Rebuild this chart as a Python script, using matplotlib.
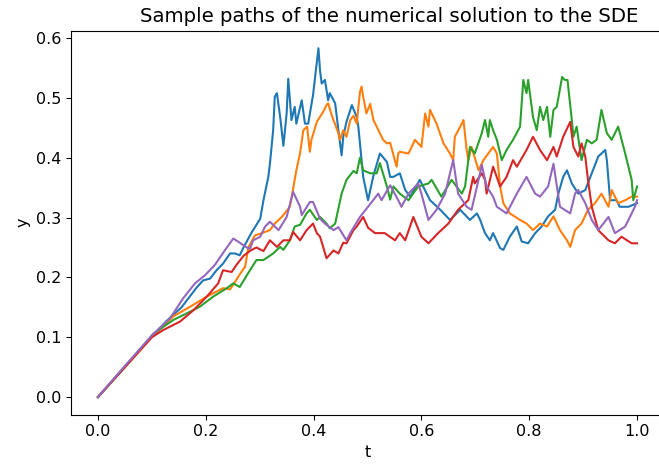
import matplotlib
matplotlib.use('Agg')
import matplotlib.pyplot as plt

# sample paths (t, y)
t_blue = [0, 0.05, 0.10, 0.127, 0.155, 0.183, 0.195, 0.208, 0.220, 0.232, 0.245, 0.254, 0.263, 0.270,
          0.285, 0.301, 0.307, 0.316, 0.319, 0.325, 0.328, 0.332, 0.338, 0.344, 0.350, 0.353, 0.359,
          0.365, 0.368, 0.378, 0.384, 0.390, 0.399, 0.409, 0.412, 0.415, 0.421, 0.427, 0.430, 0.440,
          0.446, 0.452, 0.455, 0.461, 0.471, 0.480, 0.483, 0.489, 0.492, 0.501, 0.511, 0.523, 0.536,
          0.542, 0.548, 0.560, 0.570, 0.579, 0.597, 0.616, 0.622, 0.635, 0.653, 0.672, 0.690, 0.703,
          0.709, 0.718, 0.727, 0.733, 0.746, 0.752, 0.764, 0.777, 0.786, 0.798, 0.811, 0.823, 0.835,
          0.848, 0.854, 0.863, 0.870, 0.879, 0.891, 0.904, 0.916, 0.928, 0.941, 0.944, 0.950, 0.962,
          0.968, 0.984, 1.0]
y_blue = [0, 0.051, 0.101, 0.127, 0.150, 0.183, 0.195, 0.198, 0.212, 0.223, 0.240, 0.240, 0.237, 0.250,
          0.275, 0.298, 0.329, 0.368, 0.390, 0.446, 0.502, 0.508, 0.468, 0.420, 0.474, 0.532, 0.463,
          0.485, 0.457, 0.496, 0.457, 0.457, 0.505, 0.583, 0.545, 0.524, 0.530, 0.496, 0.508, 0.491,
          0.446, 0.404, 0.435, 0.460, 0.488, 0.468, 0.452, 0.396, 0.368, 0.329, 0.370, 0.407, 0.393,
          0.368, 0.368, 0.374, 0.346, 0.335, 0.363, 0.329, 0.324, 0.313, 0.296, 0.313, 0.296, 0.307,
          0.296, 0.274, 0.262, 0.274, 0.249, 0.246, 0.268, 0.285, 0.260, 0.257, 0.274, 0.285, 0.302,
          0.313, 0.340, 0.368, 0.379, 0.357, 0.340, 0.346, 0.374, 0.402, 0.413, 0.396, 0.329, 0.329,
          0.318, 0.318, 0.324]

t_orange = [0, 0.05, 0.10, 0.14, 0.171, 0.202, 0.232, 0.245, 0.254, 0.263, 0.273, 0.279, 0.291, 0.304,
            0.319, 0.328, 0.341, 0.356, 0.362, 0.368, 0.375, 0.381, 0.388, 0.393, 0.396, 0.406, 0.418,
            0.424, 0.427, 0.434, 0.446, 0.449, 0.455, 0.461, 0.468, 0.474, 0.480, 0.486, 0.489, 0.492,
            0.498, 0.505, 0.511, 0.517, 0.529, 0.536, 0.542, 0.554, 0.557, 0.560, 0.576, 0.588, 0.600,
            0.607, 0.613, 0.616, 0.628, 0.641, 0.653, 0.659, 0.662, 0.675, 0.678, 0.684, 0.687, 0.693,
            0.706, 0.715, 0.733, 0.740, 0.746, 0.752, 0.764, 0.783, 0.795, 0.807, 0.820, 0.833, 0.845,
            0.857, 0.870, 0.876, 0.885, 0.897, 0.909, 0.922, 0.934, 0.947, 0.953, 0.965, 0.978, 0.990,
            1.0]
y_orange = [0, 0.05, 0.10, 0.135, 0.151, 0.168, 0.182, 0.180, 0.192, 0.205, 0.218, 0.250, 0.270, 0.274,
            0.279, 0.290, 0.301, 0.318, 0.348, 0.379, 0.408, 0.446, 0.452, 0.410, 0.430, 0.460, 0.477,
            0.488, 0.491, 0.470, 0.441, 0.430, 0.446, 0.435, 0.463, 0.470, 0.457, 0.510, 0.519, 0.502,
            0.474, 0.490, 0.463, 0.452, 0.430, 0.424, 0.425, 0.385, 0.407, 0.410, 0.407, 0.430, 0.418,
            0.474, 0.452, 0.480, 0.457, 0.424, 0.407, 0.396, 0.435, 0.457, 0.463, 0.413, 0.396, 0.418,
            0.379, 0.396, 0.418, 0.407, 0.352, 0.324, 0.307, 0.296, 0.290, 0.279, 0.290, 0.285, 0.302,
            0.279, 0.262, 0.251, 0.279, 0.290, 0.313, 0.324, 0.340, 0.318, 0.346, 0.324, 0.329, 0.335,
            0.335]

t_green = [0, 0.05, 0.103, 0.140, 0.165, 0.189, 0.214, 0.239, 0.251, 0.263, 0.282, 0.294, 0.307, 0.325,
           0.338, 0.344, 0.356, 0.365, 0.375, 0.387, 0.393, 0.406, 0.412, 0.424, 0.430, 0.440, 0.452,
           0.461, 0.474, 0.480, 0.486, 0.492, 0.505, 0.517, 0.523, 0.536, 0.542, 0.548, 0.560, 0.576,
           0.594, 0.613, 0.619, 0.637, 0.656, 0.675, 0.681, 0.690, 0.699, 0.712, 0.718, 0.724, 0.727,
           0.733, 0.740, 0.749, 0.758, 0.770, 0.783, 0.789, 0.795, 0.798, 0.807, 0.814, 0.820, 0.826,
           0.833, 0.839, 0.845, 0.851, 0.861, 0.866, 0.871, 0.879, 0.882, 0.888, 0.897, 0.907, 0.916,
           0.925, 0.934, 0.944, 0.953, 0.965, 0.978, 0.990, 0.993, 1.0]
y_green = [0, 0.05, 0.106, 0.129, 0.140, 0.151, 0.168, 0.182, 0.190, 0.184, 0.212, 0.229, 0.229, 0.240,
           0.251, 0.246, 0.262, 0.285, 0.288, 0.307, 0.313, 0.296, 0.301, 0.290, 0.282, 0.290, 0.340,
           0.363, 0.378, 0.374, 0.400, 0.379, 0.374, 0.374, 0.391, 0.352, 0.330, 0.352, 0.340, 0.329,
           0.352, 0.357, 0.363, 0.335, 0.363, 0.340, 0.352, 0.418, 0.407, 0.441, 0.463, 0.435, 0.463,
           0.446, 0.430, 0.396, 0.413, 0.430, 0.452, 0.530, 0.508, 0.530, 0.468, 0.446, 0.485, 0.463,
           0.485, 0.435, 0.480, 0.485, 0.535, 0.530, 0.530, 0.463, 0.435, 0.452, 0.396, 0.430, 0.424,
           0.430, 0.480, 0.441, 0.430, 0.452, 0.407, 0.363, 0.329, 0.352]

t_red = [0, 0.05, 0.10, 0.121, 0.152, 0.177, 0.202, 0.223, 0.232, 0.248, 0.257, 0.270, 0.283, 0.294,
         0.307, 0.319, 0.332, 0.344, 0.356, 0.362, 0.375, 0.387, 0.399, 0.406, 0.412, 0.424, 0.437,
         0.446, 0.455, 0.461, 0.474, 0.480, 0.492, 0.501, 0.514, 0.532, 0.551, 0.560, 0.570, 0.585,
         0.600, 0.613, 0.631, 0.650, 0.668, 0.687, 0.696, 0.699, 0.712, 0.718, 0.721, 0.733, 0.746,
         0.758, 0.770, 0.777, 0.795, 0.807, 0.820, 0.833, 0.845, 0.851, 0.863, 0.876, 0.882, 0.891,
         0.897, 0.904, 0.909, 0.916, 0.928, 0.947, 0.959, 0.971, 0.990, 1.0]
y_red = [0, 0.05, 0.10, 0.112, 0.126, 0.145, 0.168, 0.190, 0.212, 0.209, 0.221, 0.236, 0.245, 0.250,
         0.244, 0.262, 0.251, 0.262, 0.262, 0.276, 0.262, 0.279, 0.290, 0.274, 0.268, 0.232, 0.245,
         0.240, 0.258, 0.257, 0.279, 0.285, 0.301, 0.283, 0.274, 0.274, 0.262, 0.274, 0.262, 0.301,
         0.268, 0.257, 0.274, 0.290, 0.313, 0.329, 0.368, 0.357, 0.374, 0.363, 0.340, 0.385, 0.352,
         0.368, 0.396, 0.385, 0.413, 0.435, 0.413, 0.396, 0.418, 0.402, 0.435, 0.460, 0.418, 0.402,
         0.424, 0.402, 0.363, 0.318, 0.279, 0.262, 0.257, 0.268, 0.257, 0.257]

t_purple = [0, 0.05, 0.10, 0.134, 0.158, 0.180, 0.199, 0.217, 0.236, 0.251, 0.263, 0.276, 0.282, 0.288,
            0.301, 0.310, 0.319, 0.335, 0.350, 0.362, 0.375, 0.378, 0.393, 0.399, 0.412, 0.421, 0.437,
            0.446, 0.461, 0.468, 0.486, 0.501, 0.520, 0.526, 0.542, 0.557, 0.563, 0.576, 0.594, 0.600,
            0.613, 0.628, 0.644, 0.656, 0.659, 0.668, 0.684, 0.693, 0.709, 0.712, 0.721, 0.733, 0.740,
            0.758, 0.777, 0.795, 0.811, 0.820, 0.835, 0.845, 0.857, 0.876, 0.885, 0.891, 0.904, 0.916,
            0.928, 0.947, 0.959, 0.978, 0.996, 1.0]
y_purple = [0, 0.052, 0.103, 0.132, 0.165, 0.190, 0.204, 0.221, 0.246, 0.265, 0.258, 0.250, 0.248, 0.262,
            0.268, 0.285, 0.293, 0.279, 0.301, 0.343, 0.318, 0.304, 0.326, 0.326, 0.298, 0.290, 0.279,
            0.284, 0.262, 0.274, 0.301, 0.318, 0.340, 0.329, 0.354, 0.329, 0.318, 0.340, 0.357, 0.340,
            0.296, 0.313, 0.340, 0.385, 0.396, 0.340, 0.318, 0.313, 0.375, 0.388, 0.352, 0.335, 0.318,
            0.307, 0.340, 0.368, 0.340, 0.335, 0.352, 0.390, 0.318, 0.307, 0.340, 0.346, 0.324, 0.296,
            0.279, 0.301, 0.274, 0.285, 0.318, 0.329]

fig = plt.figure(figsize=(6.59, 4.69), dpi=100)
ax = fig.add_axes([71 / 659, (469 - 414.5) / 469, 593 / 659, (414.5 - 30.8) / 469])

ax.plot(t_blue, y_blue)
ax.plot(t_orange, y_orange)
ax.plot(t_green, y_green)
ax.plot(t_red, y_red)
ax.plot(t_purple, y_purple)

# the reference title sits right of the visible plot centre (image is cropped on the right)
ax.set_title('Sample paths of the numerical solution to the SDE', fontsize=14.2, x=0.536)
ax.set_xlabel('t', fontsize=11.5)
ax.set_ylabel('y', fontsize=11.5)
ax.tick_params(labelsize=11.5)
ax.spines['right'].set_visible(False)

fig.savefig('out.png', dpi=100)
